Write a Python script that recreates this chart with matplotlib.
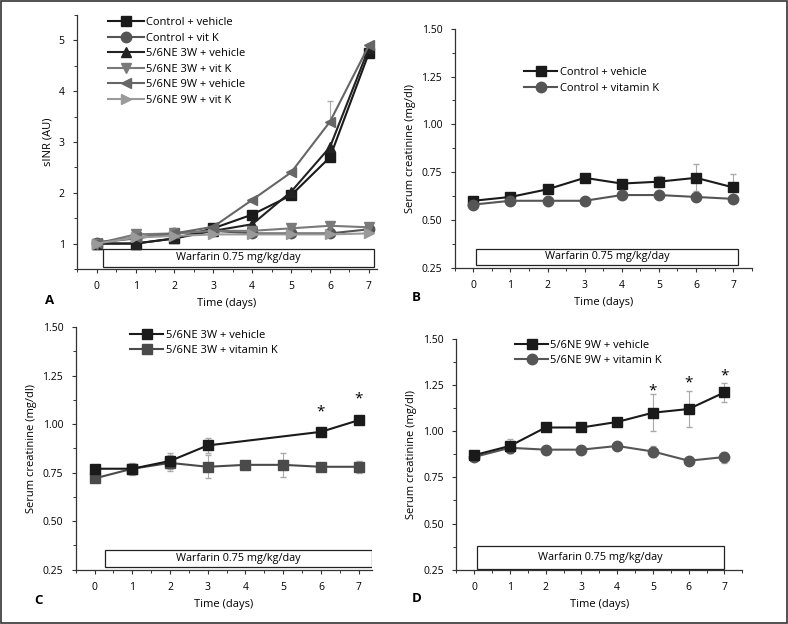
import matplotlib
matplotlib.use("Agg")
import matplotlib.pyplot as plt
from matplotlib.patches import Rectangle
from matplotlib.ticker import MultipleLocator

plt.rcParams['font.family'] = ['Open Sans', 'DejaVu Sans']
plt.rcParams['font.size'] = 7.5

days = [0, 1, 2, 3, 4, 5, 6, 7]

# panel A - sINR
a_ctrl_veh = [1.0, 1.0, 1.1, 1.3, 1.57, 1.95, 2.7, 4.75]
a_ctrl_k = [1.02, 1.1, 1.2, 1.25, 1.2, 1.2, 1.2, 1.28]
a_3w_veh = [1.0, 1.0, 1.1, 1.25, 1.38, 2.02, 2.9, 4.85]
a_3w_k = [1.0, 1.18, 1.2, 1.25, 1.25, 1.3, 1.35, 1.32]
a_9w_veh = [1.02, 1.12, 1.2, 1.33, 1.86, 2.4, 3.4, 4.9]
a_9w_veh_err = [0, 0, 0, 0, 0, 0, 0.4, 0]
a_9w_k = [1.0, 1.12, 1.15, 1.18, 1.18, 1.18, 1.18, 1.2]
a_labels = ['Control + vehicle', 'Control + vit K', '5/6NE 3W + vehicle',
            '5/6NE 3W + vit K', '5/6NE 9W + vehicle', '5/6NE 9W + vit K']

# panel B
b_veh = [0.60, 0.62, 0.66, 0.72, 0.69, 0.70, 0.72, 0.67]
b_veh_err = [0.01, 0.02, 0.02, 0.02, 0.01, 0.03, 0.07, 0.07]
b_k = [0.58, 0.60, 0.60, 0.60, 0.63, 0.63, 0.62, 0.61]
b_k_err = [0.01, 0.01, 0.01, 0.01, 0.01, 0.01, 0.01, 0.01]

# panel C
c_days_veh = [0, 1, 2, 3, 6, 7]
c_veh = [0.77, 0.77, 0.81, 0.89, 0.96, 1.02]
c_veh_err = [0.01, 0.02, 0.04, 0.04, 0.02, 0.02]
c_k = [0.72, 0.77, 0.80, 0.78, 0.79, 0.79, 0.78, 0.78]
c_k_err = [0.01, 0.03, 0.04, 0.06, 0.01, 0.06, 0.01, 0.03]
c_star_days = [6, 7]
c_star_y = [1.06, 1.13]

# panel D
d_veh = [0.87, 0.92, 1.02, 1.02, 1.05, 1.10, 1.12, 1.21]
d_veh_err = [0.01, 0.04, 0.01, 0.01, 0.02, 0.10, 0.10, 0.05]
d_k = [0.86, 0.91, 0.90, 0.90, 0.92, 0.89, 0.84, 0.86]
d_k_err = [0.01, 0.03, 0.01, 0.01, 0.01, 0.03, 0.01, 0.03]
d_star_days = [5, 6, 7]
d_star_y = [1.22, 1.26, 1.30]

fig = plt.figure(figsize=(7.88, 6.24), dpi=100)
fig.patches.append(Rectangle((0.001, 0.001), 0.998, 0.998, transform=fig.transFigure,
                             fill=False, edgecolor='#333333', linewidth=1.2))

axA = fig.add_axes([0.098, 0.569, 0.380, 0.407])
axB = fig.add_axes([0.577, 0.571, 0.377, 0.383])
axC = fig.add_axes([0.096, 0.087, 0.376, 0.389])
axD = fig.add_axes([0.579, 0.087, 0.363, 0.370])


def style(ax, xmax, ymin, ymax, ymajor, yminor, fmt=None):
    ax.set_xlim(-0.5, xmax)
    ax.set_ylim(ymin, ymax)
    for s in ['top', 'right']:
        ax.spines[s].set_visible(False)
    for s in ['left', 'bottom']:
        ax.spines[s].set_color('#333333')
        ax.spines[s].set_linewidth(0.9)
    ax.xaxis.set_major_locator(MultipleLocator(1))
    ax.xaxis.set_minor_locator(MultipleLocator(0.5))
    ax.yaxis.set_major_locator(MultipleLocator(ymajor))
    ax.yaxis.set_minor_locator(MultipleLocator(yminor))
    ax.tick_params(which='major', direction='out', length=3, width=0.8, color='#333333', pad=6)
    ax.tick_params(which='minor', direction='out', length=2, width=0.7, color='#333333')
    if fmt:
        ax.yaxis.set_major_formatter(fmt)
    ax.set_xlabel('Time (days)', fontsize=8)


def warfarin(ax, x0, x1, y0, y1):
    ax.add_patch(Rectangle((x0, y0), x1 - x0, y1 - y0, fill=True, facecolor='white',
                           edgecolor='#222222', linewidth=0.9, zorder=1))
    ax.text((x0 + x1) / 2, (y0 + y1) / 2, 'Warfarin 0.75 mg/kg/day', ha='center',
            va='center', fontsize=7.8, zorder=2)


def panel_letter(ax, letter, dx):
    ax.text(dx, -0.125, letter, transform=ax.transAxes, fontsize=9.5,
            fontweight='bold', ha='left', va='center')


ecol = '#aaaaaa'
ms = 7.5
lw = 1.5

# A
style(axA, 7.2, 0.5, 5.5, 1, 0.5)
series = [(a_ctrl_veh, 's', '#1a1a1a'), (a_ctrl_k, 'o', '#555555'),
          (a_3w_veh, '^', '#222222'), (a_3w_k, 'v', '#7a7a7a'),
          (a_9w_veh, '<', '#666666'), (a_9w_k, '>', '#9a9a9a')]
for (vals, mk, col), lab in zip(series, a_labels):
    axA.plot(days, vals, marker=mk, color=col, markersize=ms, linewidth=lw,
             label=lab, zorder=3)
axA.errorbar(days, a_9w_veh, yerr=[[0] * 8, a_9w_veh_err], fmt='none', ecolor=ecol,
             elinewidth=0.8, capsize=2, zorder=2)
warfarin(axA, 0.15, 7.13, 0.54, 0.9)
axA.set_ylabel('sINR (AU)', fontsize=8)
axA.legend(loc='upper left', bbox_to_anchor=(0.07, 1.03), frameon=False, fontsize=8,
           handlelength=3.2, labelspacing=0.4, handletextpad=0.2)
panel_letter(axA, 'A', -0.107)

fmt2 = matplotlib.ticker.FormatStrFormatter('%.2f')

# B
style(axB, 7.5, 0.25, 1.5, 0.25, 0.125, fmt2)
axB.errorbar(days, b_veh, yerr=b_veh_err, fmt='none', ecolor=ecol, elinewidth=0.8,
             capsize=2, zorder=2)
axB.errorbar(days, b_k, yerr=b_k_err, fmt='none', ecolor=ecol, elinewidth=0.8,
             capsize=2, zorder=2)
axB.plot(days, b_veh, marker='s', color='#1a1a1a', markersize=ms, linewidth=lw,
         label='Control + vehicle', zorder=3)
axB.plot(days, b_k, marker='o', color='#555555', markersize=ms, linewidth=lw,
         label='Control + vitamin K', zorder=3)
warfarin(axB, 0.08, 7.13, 0.265, 0.35)
axB.set_ylabel('Serum creatinine (mg/dl)', fontsize=8)
axB.legend(loc='upper left', bbox_to_anchor=(0.2, 0.88), frameon=False, fontsize=8,
           handlelength=3.0, labelspacing=0.4, handletextpad=0.2)
panel_letter(axB, 'B', -0.145)

# C
style(axC, 7.35, 0.25, 1.5, 0.25, 0.125, fmt2)
axC.errorbar(c_days_veh, c_veh, yerr=c_veh_err, fmt='none', ecolor=ecol, elinewidth=0.8,
             capsize=2, zorder=2)
axC.errorbar(days, c_k, yerr=c_k_err, fmt='none', ecolor=ecol, elinewidth=0.8,
             capsize=2, zorder=2)
axC.plot(c_days_veh, c_veh, marker='s', color='#1a1a1a', markersize=ms, linewidth=lw,
         label='5/6NE 3W + vehicle', zorder=4)
axC.plot(days, c_k, marker='s', color='#4a4a4a', markersize=ms, linewidth=lw,
         label='5/6NE 3W + vitamin K', zorder=3)
for xd, yd in zip(c_star_days, c_star_y):
    axC.text(xd, yd, '*', ha='center', va='center', fontsize=11)
warfarin(axC, 0.29, 7.34, 0.265, 0.35)
axC.set_ylabel('Serum creatinine (mg/dl)', fontsize=8)
axC.legend(loc='upper left', bbox_to_anchor=(0.15, 1.03), frameon=False, fontsize=8,
           handlelength=3.0, labelspacing=0.4, handletextpad=0.2)
panel_letter(axC, 'C', -0.14)

# D
style(axD, 7.5, 0.25, 1.5, 0.25, 0.125, fmt2)
axD.errorbar(days, d_veh, yerr=d_veh_err, fmt='none', ecolor=ecol, elinewidth=0.8,
             capsize=2, zorder=2)
axD.errorbar(days, d_k, yerr=d_k_err, fmt='none', ecolor=ecol, elinewidth=0.8,
             capsize=2, zorder=2)
axD.plot(days, d_veh, marker='s', color='#1a1a1a', markersize=ms, linewidth=lw,
         label='5/6NE 9W + vehicle', zorder=4)
axD.plot(days, d_k, marker='o', color='#555555', markersize=ms, linewidth=lw,
         label='5/6NE 9W + vitamin K', zorder=3)
for xd, yd in zip(d_star_days, d_star_y):
    axD.text(xd, yd, '*', ha='center', va='center', fontsize=11)
warfarin(axD, 0.08, 7.0, 0.255, 0.38)
axD.set_ylabel('Serum creatinine (mg/dl)', fontsize=8)
axD.legend(loc='upper left', bbox_to_anchor=(0.17, 1.04), frameon=False, fontsize=8,
           handlelength=3.0, labelspacing=0.4, handletextpad=0.2)
panel_letter(axD, 'D', -0.155)

fig.savefig('out.png', dpi=100)
